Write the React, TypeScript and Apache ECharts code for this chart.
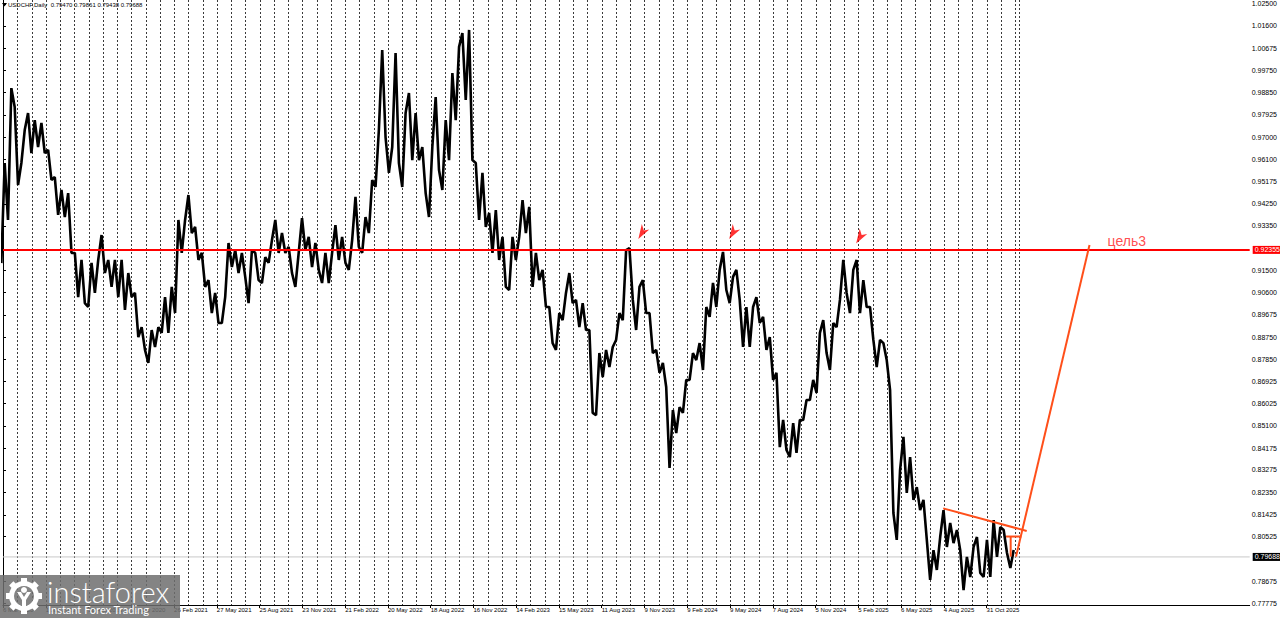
import React, { useEffect, useRef } from "react";
import * as echarts from "echarts";

// ---- data ----
const BARS_PER_BIN = 10; // each sample covers ~10 daily bars
const highs = [
  0.9594, 0.9903, 0.9825, 0.973, 0.98, 0.9771, 0.9759, 0.9648, 0.9536, 0.9483,
  0.947, 0.9223, 0.9194, 0.9182, 0.9194, 0.9297, 0.9194, 0.9194, 0.9194, 0.914,
  0.9058, 0.8917, 0.8905, 0.8917, 0.9041, 0.9083, 0.9359, 0.9359, 0.9462, 0.933,
  0.9223, 0.9111, 0.9058, 0.9041, 0.9264, 0.9235, 0.9223, 0.9235, 0.9223, 0.9206,
  0.9276, 0.9359, 0.9305, 0.9248, 0.9223, 0.9367, 0.9289, 0.9264, 0.9223, 0.9223,
  0.9338, 0.9289, 0.9276, 0.9454, 0.9371, 0.9524, 0.973, 1.006, 0.966, 1.0048,
  0.98, 0.9883, 0.98, 0.966, 0.966, 0.9866, 0.9771, 0.9965, 1.0073, 1.013,
  1.0143, 0.9594, 0.9553, 0.9388, 0.94, 0.9289, 0.9289, 0.9289, 0.9441, 0.9413,
  0.9223, 0.9153, 0.9, 0.8975, 0.9058, 0.914, 0.9029, 0.9016, 0.8905, 0.881,
  0.8823, 0.8835, 0.8975, 0.9235, 0.9243, 0.9083, 0.9111, 0.8975, 0.8823, 0.8769,
  0.8575, 0.8587, 0.8699, 0.881, 0.8851, 0.9, 0.9099, 0.9153, 0.9227, 0.9124,
  0.9153, 0.9, 0.9, 0.9041, 0.8959, 0.8876, 0.8728, 0.8534, 0.8521, 0.8534,
  0.8616, 0.8699, 0.8893, 0.8946, 0.8934, 0.9029, 0.9194, 0.9153, 0.9194, 0.9111,
  0.9, 0.8864, 0.8851, 0.8658, 0.8328, 0.8464, 0.8381, 0.8257, 0.8204, 0.7997,
  0.8051, 0.8162, 0.8109, 0.808, 0.7969, 0.801, 0.8051, 0.8039, 0.8121, 0.8092,
  0.808, 0.7997,
];
const lows = [
  0.9181, 0.9359, 0.9503, 0.9594, 0.9635, 0.966, 0.9635, 0.9524, 0.938, 0.9371,
  0.9223, 0.9041, 0.9016, 0.9, 0.9058, 0.914, 0.9083, 0.9041, 0.8988, 0.9041,
  0.8876, 0.8823, 0.8769, 0.8835, 0.8893, 0.8893, 0.8975, 0.9223, 0.9305, 0.9194,
  0.9083, 0.8975, 0.8934, 0.8934, 0.9165, 0.914, 0.9124, 0.9016, 0.9111, 0.9099,
  0.9182, 0.9223, 0.9223, 0.914, 0.9083, 0.9235, 0.9165, 0.9153, 0.9099, 0.9099,
  0.9194, 0.9182, 0.9153, 0.9248, 0.9223, 0.9305, 0.9495, 0.9701, 0.9553, 0.9594,
  0.9495, 0.9606, 0.9606, 0.947, 0.9371, 0.9565, 0.9483, 0.9606, 0.9771, 0.9854,
  0.9606, 0.9359, 0.933, 0.9223, 0.9194, 0.9083, 0.907, 0.9194, 0.9305, 0.9083,
  0.9111, 0.9, 0.8851, 0.8823, 0.8946, 0.9016, 0.8917, 0.8905, 0.8563, 0.8554,
  0.8711, 0.8752, 0.8864, 0.8946, 0.9029, 0.8905, 0.8975, 0.881, 0.8728, 0.867,
  0.8336, 0.848, 0.8563, 0.8699, 0.8781, 0.874, 0.8959, 0.9, 0.907, 0.9016,
  0.9029, 0.8835, 0.8835, 0.8934, 0.8823, 0.8699, 0.8422, 0.841, 0.8381, 0.8398,
  0.8534, 0.8616, 0.8645, 0.881, 0.874, 0.8917, 0.9058, 0.8975, 0.8975, 0.9,
  0.8864, 0.8752, 0.8781, 0.815, 0.8039, 0.8233, 0.8204, 0.8162, 0.8039, 0.7874,
  0.7915, 0.801, 0.8026, 0.7997, 0.7832, 0.7886, 0.7903, 0.7886, 0.7886, 0.7969,
  0.7985, 0.7923,
];

const BARS_PER_LABEL = 64;
const xLabels = [
  "6 Mar 2020", "1 Jun 2020", "28 Aug 2020", "26 Nov 2020", "26 Feb 2021",
  "27 May 2021", "25 Aug 2021", "23 Nov 2021", "21 Feb 2022", "20 May 2022",
  "18 Aug 2022", "16 Nov 2022", "14 Feb 2023", "15 May 2023", "11 Aug 2023",
  "9 Nov 2023", "9 Feb 2024", "9 May 2024", "7 Aug 2024", "5 Nov 2024",
  "5 Feb 2025", "6 May 2025", "4 Aug 2025", "31 Oct 2025",
];
const yTicks = [
  1.025, 1.016, 1.00675, 0.9975, 0.9885, 0.97925, 0.97, 0.961, 0.95175, 0.9425,
  0.9335, 0.915, 0.906, 0.89675, 0.8875, 0.8785, 0.86925, 0.86025, 0.851,
  0.84175, 0.83275, 0.8235, 0.81425, 0.80525, 0.78675, 0.77775,
];

const symbolName = "USDCHF,Daily";
const ohlc = ["0.79470", "0.79861", "0.79438", "0.79688"];
const currentPrice = 0.79688;
const targetLevel = 0.92355;

// annotations, in [bar index, price]
const trendLine = [[1407, 0.8169], [1532, 0.8076]];
const flagTop = [[1501, 0.8053], [1524, 0.8053]];
const flagStem = [[1508, 0.8053], [1508, 0.797]];
const targetPath = [[1516, 0.797], [1626, 0.9256]];
const arrows = [[959, 0.9311], [1095, 0.9311], [1285, 0.9293]];
const targetText = { bar: 1653, price: 0.9272, text: "цель3" };

const X_MAX = 1865.7;
const Y_MIN = 0.77705;
const Y_MAX = 1.02665;
const GRID_STEP = BARS_PER_LABEL / 3;
const GRID_LAST = 1521;

export default function App() {
  const ref = useRef<HTMLDivElement>(null);

  useEffect(() => {
    document.body.style.margin = "0";
    if (!ref.current) return;
    const chart = echarts.init(ref.current, undefined, { renderer: "svg" });

    const xTickBars = xLabels.map((_, i) => i * BARS_PER_LABEL);
    const gridBars: number[][] = [];
    for (let k = 1; k * GRID_STEP < GRID_LAST - 6; k++) gridBars.push([k * GRID_STEP]);
    gridBars.push([GRID_LAST]);

    // each sample's range drawn as strokes from one extreme to the other,
    // in the order of the direction of travel
    const zig: number[][] = [];
    highs.forEach((h, i) => {
      const l = lows[i];
      const mid = (h + l) / 2;
      const nextMid = i < highs.length - 1 ? (highs[i + 1] + lows[i + 1]) / 2 : mid;
      const b = i * BARS_PER_BIN;
      if (nextMid >= mid) {
        zig.push([b - 2.5, l], [b + 2.5, h]);
      } else {
        zig.push([b - 2.5, h], [b + 2.5, l]);
      }
    });

    const font = "Liberation Sans, Arial, sans-serif";

    const gearTeeth: any[] = [];
    for (let k = 0; k < 8; k++) {
      gearTeeth.push({
        type: "rect",
        shape: { x: -3, y: -18, width: 6, height: 6 },
        rotation: (k * Math.PI) / 4,
        x: 24,
        y: 596,
        style: { fill: "#fff" },
        z: 101,
      });
    }

    const levelLine = (level: number, color: string, width: number, bg: string, z: number) => ({
      type: "line",
      data: [[0, level], [X_MAX, level]],
      z,
      symbol: "none",
      silent: true,
      lineStyle: { color, width },
      endLabel: {
        show: true,
        formatter: level.toFixed(5),
        backgroundColor: bg,
        color: "#fff",
        fontSize: 7,
        fontFamily: font,
        padding: [1, 2, 0, 2],
        distance: 3,
      },
    });

    const option: any = {
      animation: false,
      grid: { left: 0, top: 0, right: 27, bottom: 15 },
      xAxis: {
        type: "value",
        min: 0,
        max: X_MAX,
        axisLine: { show: true, lineStyle: { color: "#000", width: 1 } },
        axisTick: { show: true, customValues: xTickBars, length: 3, lineStyle: { color: "#000" } },
        axisLabel: {
          customValues: xTickBars,
          formatter: (v: number) => xLabels[Math.round(v / BARS_PER_LABEL)] ?? "",
          fontSize: 6,
          color: "#000",
          align: "left",
          margin: 2,
          fontFamily: font,
        },
        splitLine: { show: false },
      },
      yAxis: {
        type: "value",
        position: "right",
        min: Y_MIN,
        max: Y_MAX,
        axisLine: { show: true, lineStyle: { color: "#000", width: 1 } },
        axisTick: { show: true, customValues: yTicks, length: 3, lineStyle: { color: "#000" } },
        axisLabel: {
          customValues: yTicks,
          formatter: (v: number) => v.toFixed(5),
          fontSize: 7,
          color: "#000",
          margin: 2,
          fontFamily: font,
        },
        splitLine: { show: false },
      },
      series: [
        {
          name: "grid",
          type: "custom",
          z: 1,
          silent: true,
          data: gridBars,
          encode: { x: 0 },
          renderItem: (params: any, api: any) => {
            const top = api.coord([api.value(0), Y_MAX]);
            const bottom = api.coord([api.value(0), Y_MIN]);
            const x = Math.round(top[0]) + 0.5;
            return {
              type: "line",
              shape: { x1: x, y1: top[1], x2: x, y2: bottom[1] },
              style: { stroke: "#3a3a3a", lineWidth: 1, lineDash: [2, 2] },
            };
          },
        },
        levelLine(currentPrice, "#c8c8c8", 1, "#000", 2),
        {
          name: "USDCHF",
          type: "line",
          z: 3,
          data: zig,
          symbol: "none",
          lineStyle: { color: "#000", width: 2.6, join: "bevel" },
        },
        levelLine(targetLevel, "#ff0000", 2, "#ff0000", 4),
        ...[trendLine, flagTop, flagStem, targetPath].map((d) => ({
          type: "line",
          data: d,
          z: 5,
          symbol: "none",
          lineStyle: { color: "#ff4f1a", width: 2 },
        })),
        {
          name: "arrows",
          type: "scatter",
          z: 6,
          data: arrows,
          symbol: "path://M0,15 L3.5,0 L5.5,6.5 L11,5.5 Z",
          symbolSize: [11, 15],
          itemStyle: { color: "#ff0000" },
        },
        {
          name: "target label",
          type: "scatter",
          z: 6,
          data: [[targetText.bar, targetText.price]],
          symbolSize: 0,
          label: {
            show: true,
            position: "right",
            distance: 0,
            formatter: targetText.text,
            color: "#ff2020",
            fontSize: 14,
            fontFamily: font,
          },
        },
      ],
      graphic: [
        {
          type: "polygon",
          shape: { points: [[2, 3], [7, 3], [4.5, 6.5]] },
          style: { fill: "#000" },
        },
        {
          type: "text",
          x: 8,
          y: 5,
          style: {
            text: symbolName + "  " + ohlc.join(" "),
            fontSize: 6,
            fontFamily: font,
            fill: "#000",
            verticalAlign: "middle",
          },
        },
        {
          type: "rect",
          shape: { x: 0, y: 575, width: 180, height: 43 },
          style: { fill: "rgba(110,110,110,0.85)" },
          z: 100,
        },
        ...gearTeeth,
        {
          type: "ring",
          shape: { cx: 24, cy: 596, r: 15, r0: 10 },
          style: { fill: "#fff" },
          z: 101,
        },
        {
          type: "circle",
          shape: { cx: 24, cy: 590, r: 3 },
          style: { fill: "#fff" },
          z: 101,
        },
        {
          type: "polygon",
          shape: { points: [[17, 592], [21, 592], [24, 597], [27, 592], [31, 592], [26, 600], [26, 606], [22, 606], [22, 600]] },
          style: { fill: "#fff" },
          z: 101,
        },
        {
          type: "text",
          x: 47,
          y: 591,
          style: {
            text: "instaforex",
            fontSize: 29,
            fontFamily: "Lato, Liberation Sans, sans-serif",
            fontWeight: 300,
            fill: "#fff",
            verticalAlign: "middle",
          },
          z: 101,
        },
        {
          type: "text",
          x: 48,
          y: 609,
          style: {
            text: "Instant Forex Trading",
            fontSize: 11,
            fontFamily: "Lato, Liberation Sans, sans-serif",
            fill: "#fff",
            verticalAlign: "middle",
          },
          z: 101,
        },
      ],
    };

    chart.setOption(option);
    return () => chart.dispose();
  }, []);

  return <div ref={ref} style={{ width: 1280, height: 620 }} />;
}
